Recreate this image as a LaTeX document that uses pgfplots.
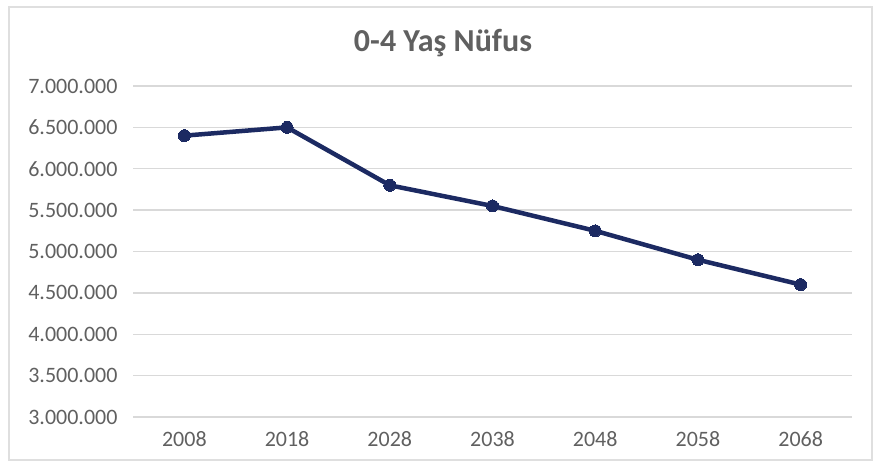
\documentclass[border=0pt]{standalone}
\usepackage{fontspec}
\setmainfont{Carlito}
\usepackage{pgfplots}
\pgfplotsset{compat=1.18}
\definecolor{navy}{HTML}{1C2A62}
\definecolor{txt}{HTML}{606060}
\definecolor{gridc}{HTML}{D9D9D9}
\begin{document}
\begin{tikzpicture}[x=1pt,y=1pt]
\useasboundingbox (0,0) rectangle (877,463);
\draw[gray!25, line width=1.5pt] (9,3) rectangle (872,456);
\node[font=\fontsize{32}{36}\selectfont\bfseries, text=txt] at (443,420) {0-4 Yaş Nüfus};
\begin{axis}[
  at={(133pt,46pt)}, anchor=south west,
  scale only axis, width=719pt, height=331pt,
  xmin=-0.5, xmax=6.5, ymin=3000000, ymax=7000000,
  xtick={0,...,6},
  xticklabels={2008,2018,2028,2038,2048,2058,2068},
  ytick={3000000,3500000,...,7000000},
  scaled y ticks=false,
  /pgf/number format/.cd, fixed, 1000 sep={.}, assume math mode=true,
  /pgfplots/.cd,
  axis line style={draw=none},
  major tick length=0pt,
  ymajorgrids, grid style={gridc, line width=1.5pt},
  tick label style={font=\fontsize{22}{24}\selectfont, text=txt},
  yticklabel style={xshift=-12pt},
  xticklabel style={yshift=-11pt},
  clip=false,
]
\addplot[navy, line width=4.5pt, mark=*, mark size=6pt, mark options={fill=navy, draw=navy, line width=0pt}]
  coordinates {(0,6400000) (1,6500000) (2,5800000) (3,5550000) (4,5250000) (5,4900000) (6,4600000)};
\end{axis}
\end{tikzpicture}
\end{document}
